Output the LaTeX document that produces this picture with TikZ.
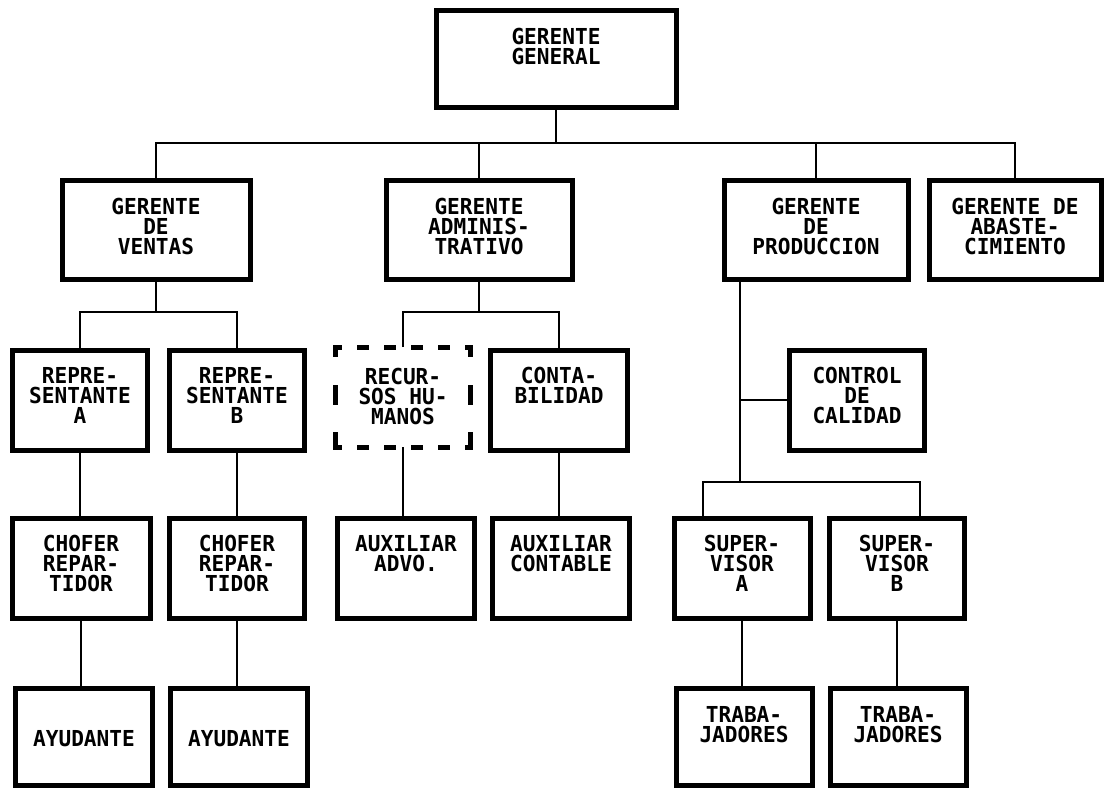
\documentclass[tikz,border=0pt]{standalone}
\usepackage{fontspec}
\newfontfamily\matriz{DejaVu Sans Mono}[FakeStretch=0.96]
\newcommand{\rotulo}[3][17.5pt]{\parbox[c][#2][t]{130pt}{\centering\matriz\bfseries\fontsize{22pt}{20pt}\selectfont\vspace*{#1}#3}}
\tikzset{
  puesto/.style={draw,line width=5pt,inner sep=0pt,minimum width=#1},
  enlace/.style={line width=1.6pt},
  borde rrhh/.style={line width=5pt,line cap=rect}
}
\begin{document}
\begin{tikzpicture}[x=1pt,y=-1pt]
\useasboundingbox (0,0) rectangle (1109,790);
\node[puesto=240pt] (gg) at (556,59) {\rotulo{97pt}{GERENTE\\GENERAL}};
\node[puesto=188pt] (ventas) at (156,230) {\rotulo{99pt}{GERENTE\\DE\\VENTAS}};
\node[puesto=186pt] (admin) at (479,230) {\rotulo{99pt}{GERENTE\\ADMINIS-\\TRATIVO}};
\node[puesto=184pt] (prod) at (816,230) {\rotulo{99pt}{GERENTE\\DE\\PRODUCCION}};
\node[puesto=172pt] (abast) at (1015,230) {\rotulo{99pt}{GERENTE DE\\ABASTE-\\CIMIENTO}};
\node[puesto=135pt] (repA) at (80,400) {\rotulo{100pt}{REPRE-\\SENTANTE\\A}};
\node[puesto=135pt] (repB) at (237,400) {\rotulo{100pt}{REPRE-\\SENTANTE\\B}};
\node[puesto=108pt,draw=none] (rrhh) at (403,397) {\rotulo[18.5pt]{95pt}{RECUR-\\SOS HU-\\MANOS}};
\node[puesto=137pt] (contab) at (559,400) {\rotulo{100pt}{CONTA-\\BILIDAD}};
\node[puesto=135pt] (control) at (857,400) {\rotulo{100pt}{CONTROL\\DE\\CALIDAD}};
\node[puesto=138pt] (chofA) at (81,568) {\rotulo{100pt}{CHOFER\\REPAR-\\TIDOR}};
\node[puesto=135pt] (chofB) at (237,568) {\rotulo{100pt}{CHOFER\\REPAR-\\TIDOR}};
\node[puesto=137pt] (auxAdvo) at (406,568) {\rotulo{100pt}{AUXILIAR\\ADVO.}};
\node[puesto=137pt] (auxCont) at (561,568) {\rotulo{100pt}{AUXILIAR\\CONTABLE}};
\node[puesto=136pt] (supA) at (742,568) {\rotulo{100pt}{SUPER-\\VISOR\\A}};
\node[puesto=135pt] (supB) at (897,568) {\rotulo{100pt}{SUPER-\\VISOR\\B}};
\node[puesto=137pt] (ayudA) at (84,737) {\rotulo[41.5pt]{97pt}{AYUDANTE}};
\node[puesto=137pt] (ayudB) at (239,737) {\rotulo[41.5pt]{97pt}{AYUDANTE}};
\node[puesto=136pt] (trabA) at (744,737) {\rotulo{97pt}{TRABA-\\JADORES}};
\node[puesto=136pt] (trabB) at (898,737) {\rotulo{97pt}{TRABA-\\JADORES}};
\draw[borde rrhh,dash pattern=on 7pt off 20pt,dash phase=3.5pt] (rrhh.north west) -- (rrhh.north east) (rrhh.south west) -- (rrhh.south east);
\draw[borde rrhh,dash pattern=on 15pt off 32.5pt,dash phase=7.5pt] (rrhh.north west) -- (rrhh.south west) (rrhh.north east) -- (rrhh.south east);
\coordinate (b1) at (0,143);
\coordinate (b2) at (0,312);
\coordinate (eje) at (740,482);
\coordinate (b3i) at (703,482);
\coordinate (b3d) at (920,482);
\draw[enlace] (gg.south) -- (gg.south |- b1);
\draw[enlace] (ventas.north) |- (abast.north |- b1) -- (abast.north);
\draw[enlace] (admin.north) -- (admin.north |- b1);
\draw[enlace] (prod.north) -- (prod.north |- b1);
\draw[enlace] (ventas.south) -- (ventas.south |- b2);
\draw[enlace] (repA.north) |- (repB.north |- b2) -- (repB.north);
\draw[enlace] (admin.south) -- (admin.south |- b2);
\draw[enlace] (rrhh.north) |- (contab.north |- b2) -- (contab.north);
\draw[enlace] (prod.south -| eje) -- (eje);
\draw[enlace] (control.west -| eje) -- (control.west);
\draw[enlace] (supA.north -| b3i) |- (b3d) -- (supB.north -| b3d);
\foreach \a/\b in {repA/chofA,repB/chofB,chofA/ayudA,chofB/ayudB,rrhh/auxAdvo,contab/auxCont,supA/trabA,supB/trabB}
  \draw[enlace] (\a.south) -- (\a.south |- \b.north);
\end{tikzpicture}
\end{document}
